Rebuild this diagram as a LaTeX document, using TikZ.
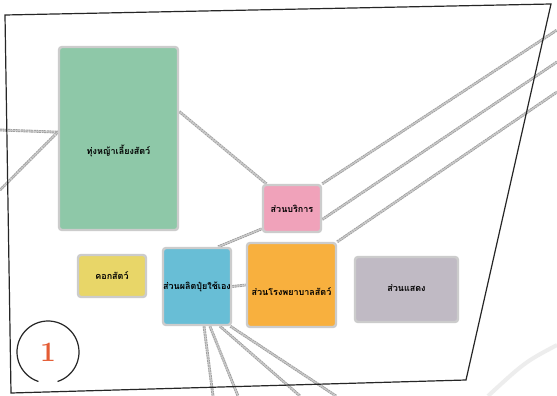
\documentclass[tikz,border=0pt]{standalone}
\usepackage{fontspec}
\newfontfamily\thaifont[Script=Thai]{Loma}
\usetikzlibrary{backgrounds}
\definecolor{zgreen}{RGB}{142,200,168}
\definecolor{zpink}{RGB}{240,162,186}
\definecolor{zyellow}{RGB}{232,214,104}
\definecolor{zblue}{RGB}{104,190,214}
\definecolor{zorange}{RGB}{248,176,62}
\definecolor{zgray}{RGB}{192,186,196}
\definecolor{numred}{RGB}{228,92,52}
\newcommand{\zt}[2]{\raisebox{#1}[0pt][0pt]{#2}}
\begin{document}
\begin{tikzpicture}[x=1pt,y=-1pt,
  zone/.style={rounded corners=3pt, draw=gray!40, line width=2.4pt, inner sep=0pt,
    font=\thaifont\bfseries\fontsize{9}{10}\selectfont, text=black},
  road/.style={draw=gray!75, line width=0.9pt, double=gray!40, double distance=1pt, dash pattern=on 2pt off 0.6pt},
  faint/.style={draw=gray!14, line width=4pt},
  frameline/.style={draw=black!85, line width=1.2pt, line join=miter}]
\useasboundingbox (0,0) rectangle (557,396);

% zones
\node[zone, fill=zgreen, minimum width=119pt, minimum height=183pt] (green) at (118.5,138.5) {\zt{-15.5pt}{ทุ่งหญ้าเลี้ยงสัตว์}};
\node[zone, fill=zpink, minimum width=58pt, minimum height=47pt] (pink) at (292,208.5) {\zt{-3.5pt}{ส่วนบริการ}};
\node[zone, fill=zyellow, minimum width=68pt, minimum height=42pt] (yellow) at (112,276) {\zt{-3pt}{คอกสัตว์}};
\node[zone, fill=zblue, minimum width=68pt, minimum height=77pt] (blue) at (197,286.5) {\zt{-2.5pt}{ส่วนผลิตปุ๋ยใช้เอง}};
\node[zone, fill=zorange, minimum width=89pt, minimum height=84pt] (orange) at (291.5,285) {\zt{-10pt}{ส่วนโรงพยาบาลสัตว์}};
\node[zone, fill=zgray, minimum width=103pt, minimum height=65pt] (grayz) at (406.5,289.5) {\zt{-2pt}{ส่วนแสดง}};

% number circle
\node[inner sep=0pt, minimum size=62pt, circle, font=\bfseries\fontsize{28}{28}\selectfont, text=numred] (num) at (48,352) {1};
\draw[black!85, line width=1.2pt] ([shift={(-72:31pt)}]num.center) arc[start angle=-72, end angle=252, radius=31pt];

% frame
\coordinate (f1) at (5,15);
\coordinate (f2) at (551,4);
\coordinate (f3) at (466,380);
\coordinate (f4) at (11,393);

% free ends
\coordinate (w1) at (0,130);
\coordinate (w2) at (0,190);
\coordinate (ne1) at (557,30);
\coordinate (ne2) at (557,62);
\coordinate (ne3) at (557,92);
\coordinate (s1) at (213,396);
\coordinate (s2) at (238,396);
\coordinate (s3) at (300,396);
\coordinate (s4) at (336,396);
\coordinate (a1) at (557,345);
\coordinate (a2) at (488,396);

\begin{scope}[on background layer]
\fill[white] (0,0) rectangle (557,396);
\draw[faint] (a1) .. controls (525,362) .. (a2);
\draw[road] (green.24) -- (pink.136);
\draw[road] (w1) -- (green.174);
\draw[road] (w2) -- (green.174);
\draw[road] (pink.north east) -- (ne1);
\draw[road] (pink.-20) -- (ne2);
\draw[road] (orange.north east) -- (ne3);
\draw[road] (blue.62) -- (pink.214);
\draw[road] (blue.east) -- (orange.west);
\draw[road] (blue.-80) -- (s1);
\draw[road] (blue.-72) -- (s2);
\draw[road] (blue.-60) -- (s3);
\draw[road] (blue.-50) -- (s4);
\end{scope}

\draw[frameline] (f1) -- (f2) -- (f3) -- (f4) -- cycle;
\end{tikzpicture}
\end{document}
